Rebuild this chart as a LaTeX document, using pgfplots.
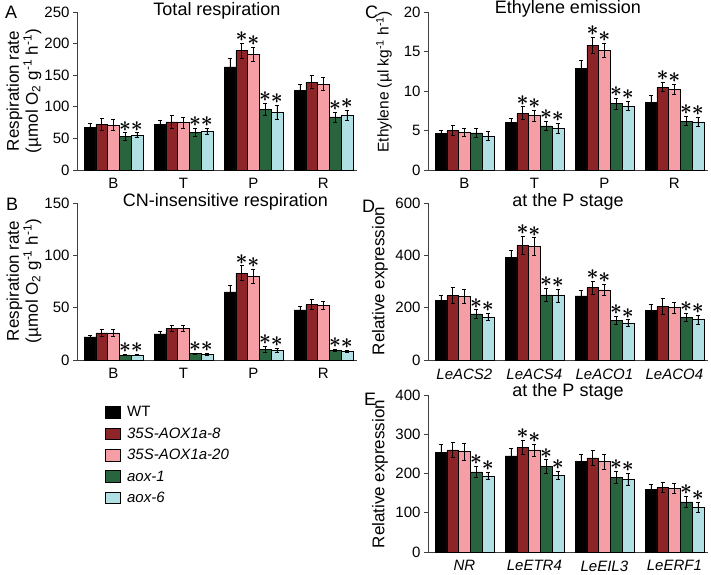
\documentclass[border=0pt]{standalone}
\usepackage{fontspec}
\setmainfont{Liberation Sans}
\usepackage{pgfplots}
\usepackage{pgfplotstable}
\pgfplotsset{compat=1.18}
\definecolor{cwt}{RGB}{0,0,0}
\definecolor{cs8}{RGB}{140,36,40}
\definecolor{cs20}{RGB}{245,158,165}
\definecolor{ca1}{RGB}{40,100,62}
\definecolor{ca6}{RGB}{176,224,228}
\definecolor{axgray}{RGB}{64,64,64}

\pgfplotstableread{
x wt wte s8 s8e s20 s20e a1 a1e a6 a6e
0 68 6 72 9 71 9 53 6 55 4
1 72 6 76 10 75 9 60 6 61 5
2 163 14 189 12 183 11 96 10 91 11
3 126 10 139 10 136 10 84 8 86 8
}\tabA
\pgfplotstableread{
x wt wte s8 s8e s20 s20e a1 a1e a6 a6e
0 22 2 26 3 26 3 5 0.8 5 0.8
1 25 2 30 3 30 3 6 0.8 5.5 0.8
2 65 6 83 7 80 7 10 3 9 2
3 48 3 53 5 52 4 9 1 8.5 1
}\tabB
\pgfplotstableread{
x wt wte s8 s8e s20 s20e a1 a1e a6 a6e
0 4.6 0.4 5.0 0.6 4.8 0.5 4.7 0.6 4.3 0.6
1 6.0 0.5 7.2 0.8 6.9 0.7 5.6 0.6 5.3 0.6
2 12.9 1.0 15.8 1.0 15.1 0.9 8.4 0.7 8.1 0.6
3 8.6 0.8 10.5 0.6 10.2 0.6 6.2 0.6 6.1 0.6
}\tabC
\pgfplotstableread{
x wt wte s8 s8e s20 s20e a1 a1e a6 a6e
0 227 22 246 30 243 27 176 16 164 13
1 393 27 437 35 434 33 249 25 246 25
2 245 22 277 25 268 22 151 15 142 12
3 190 22 205 30 200 20 163 15 155 17
}\tabD
\pgfplotstableread{
x wt wte s8 s8e s20 s20e a1 a1e a6 a6e
0 254 20 260 20 256 22 204 15 194 10
1 245 20 266 18 260 15 218 17 196 10
2 230 20 240 20 230 20 191 15 186 15
3 159 13 165 13 162 13 128 15 114 13
}\tabE

\newcommand{\starsym}{{\fontsize{22}{22}\selectfont\boldmath$\ast$}}

\pgfplotsset{
  panel/.style={
    scale only axis, width=280pt,
    axis x line*=bottom, axis y line*=left,
    xmin=-0.52, xmax=3.48, xtick={0,1,2,3},
    ymin=0,
    axis line style={axgray, line width=0.9pt},
    tick align=outside, major tick length=4pt,
    ytick style={axgray, line width=0.9pt},
    xtick style={draw=none},
    tick label style={font=\fontsize{15}{17}\selectfont},
    xticklabel style={yshift=-1pt},
    /pgf/number format/assume math mode=true,
    title style={font=\fontsize{18}{20}\selectfont, at={(0.5,1)}, anchor=base, yshift=-9pt},
    clip=false,
  },
  bars/.style={ybar, bar width=0.168, bar shift=0, draw=black, line width=0.5pt,
    error bars/y dir=both, error bars/y explicit,
    error bars/error bar style={black, line width=0.7pt},
    error bars/error mark options={black, rotate=90, mark size=2pt, line width=0.7pt},
    legend image code/.code={\draw[##1, draw=black, line width=0.6pt] (0pt,-5.5pt) rectangle (15pt,6pt);
      \path[draw=none, fill=none] (15pt,0pt) -- (20pt,0pt);}},
  stars/.style={forget plot, draw=none, mark=none, point meta=y,
    nodes near coords={\starsym},
    nodes near coords style={anchor=south, inner sep=0pt, yshift=1.5pt, text height=6pt, text depth=0pt}},
}

\newcommand{\barset}[1]{%
  \addplot[fill=cwt, bars] table[x expr=\thisrow{x}-0.336, y=wt, y error=wte] {#1};
  \addplot[fill=cs8, bars] table[x expr=\thisrow{x}-0.168, y=s8, y error=s8e] {#1};
  \addplot[fill=cs20, bars] table[x expr=\thisrow{x}, y=s20, y error=s20e] {#1};
  \addplot[fill=ca1, bars] table[x expr=\thisrow{x}+0.168, y=a1, y error=a1e] {#1};
  \addplot[fill=ca6, bars] table[x expr=\thisrow{x}+0.336, y=a6, y error=a6e] {#1};
}

\begin{document}
\begin{tikzpicture}
\useasboundingbox (0pt,0pt) rectangle (711pt,-574pt);

% Panel A
\begin{axis}[panel, at={(77pt,-170pt)}, anchor=south west, height=158pt,
  ymax=250, ytick={0,50,100,150,200,250},
  xticklabels={B,T,P,R}, title={Total respiration}]
\barset{\tabA}
\addplot[stars] coordinates {(0.168,59) (0.336,59) (1.168,66) (1.336,66)
  (1.832,201) (2.0,194) (2.168,106) (2.336,102) (3.168,92) (3.336,94)};
\end{axis}

% Panel B
\begin{axis}[panel, at={(77pt,-360pt)}, anchor=south west, height=157pt,
  ymax=150, ytick={0,50,100,150},
  xticklabels={B,T,P,R}, title={CN-insensitive respiration},
  title style={at={(0.53,1)}},
  legend style={at={(0.088,-0.27)}, anchor=north west, draw=none, fill=none,
    font=\fontsize{15}{17}\selectfont, row sep=5.5pt},
  legend cell align=left]
\barset{\tabB}
\addplot[stars] coordinates {(0.168,5.8) (0.336,5.8) (1.168,6.8) (1.336,6.3)
  (1.832,90) (2.0,87) (2.168,13) (2.336,11) (3.168,10) (3.336,9.5)};
\legend{WT,\textit{35S-AOX1a-8},\textit{35S-AOX1a-20},\textit{aox-1},\textit{aox-6}}
\end{axis}

% Panel C
\begin{axis}[panel, at={(428pt,-170pt)}, anchor=south west, height=158pt,
  ymax=20, ytick={0,5,10,15,20},
  xticklabels={B,T,P,R}, title={Ethylene emission}, title style={yshift=1.5pt}]
\barset{\tabC}
\addplot[stars] coordinates {(0.832,8.0) (1.0,7.6) (1.168,6.2) (1.336,5.9)
  (1.832,16.8) (2.0,16.0) (2.168,9.1) (2.336,8.7)
  (2.832,11.1) (3.0,10.8) (3.168,6.8) (3.336,6.7)};
\end{axis}

% Panel D
\begin{axis}[panel, at={(428pt,-360pt)}, anchor=south west, height=157pt,
  ymax=600, ytick={0,200,400,600},
  xticklabels={\textit{LeACS2},\textit{LeACS4},\textit{LeACO1},\textit{LeACO4}},
  title={at the P stage}]
\barset{\tabD}
\addplot[stars] coordinates {(0.168,192) (0.336,177)
  (0.832,472) (1.0,467) (1.168,274) (1.336,271)
  (1.832,302) (2.0,290) (2.168,166) (2.336,154)
  (3.168,178) (3.336,172)};
\end{axis}

% Panel E
\begin{axis}[panel, at={(428pt,-552pt)}, anchor=south west, height=157pt,
  ymax=400, ytick={0,100,200,300,400},
  xticklabels={\textit{NR},\textit{LeETR4},\textit{LeEIL3},\textit{LeERF1}},
  title={at the P stage}, title style={yshift=2pt}]
\barset{\tabE}
\addplot[stars] coordinates {(0.168,219) (0.336,204)
  (0.832,284) (1.0,275) (1.168,235) (1.336,206)
  (2.168,206) (2.336,201) (3.168,143) (3.336,127)};
\end{axis}

% panel letters
\node[anchor=base west, inner sep=0pt, font=\fontsize{18}{20}\selectfont] at (5pt,-18pt) {A};
\node[anchor=base west, inner sep=0pt, font=\fontsize{18}{20}\selectfont] at (6pt,-210pt) {B};
\node[anchor=base west, inner sep=0pt, font=\fontsize{18}{20}\selectfont] at (365pt,-18pt) {C};
\node[anchor=base west, inner sep=0pt, font=\fontsize{18}{20}\selectfont] at (362pt,-212pt) {D};
\node[anchor=base west, inner sep=0pt, font=\fontsize{18}{20}\selectfont] at (364pt,-405pt) {E};

% y labels
\node[rotate=90, align=center, font=\fontsize{17}{17}\selectfont, inner sep=0pt] at (24pt,-91pt)
  {Respiration rate\\(µmol O\textsubscript{2} g\textsuperscript{-1} h\textsuperscript{-1})};
\node[rotate=90, align=center, font=\fontsize{17}{17}\selectfont, inner sep=0pt] at (24pt,-281pt)
  {Respiration rate\\(µmol O\textsubscript{2} g\textsuperscript{-1} h\textsuperscript{-1})};
\node[rotate=90, font=\fontsize{15.5}{16}\selectfont, inner sep=0pt] at (384pt,-82pt)
  {Ethylene (µl kg\textsuperscript{-1} h\textsuperscript{-1})};
\node[rotate=90, font=\fontsize{17}{17}\selectfont, inner sep=0pt] at (380pt,-281pt)
  {Relative expression};
\node[rotate=90, font=\fontsize{17}{17}\selectfont, inner sep=0pt] at (380pt,-474pt)
  {Relative expression};
\end{tikzpicture}
\end{document}
